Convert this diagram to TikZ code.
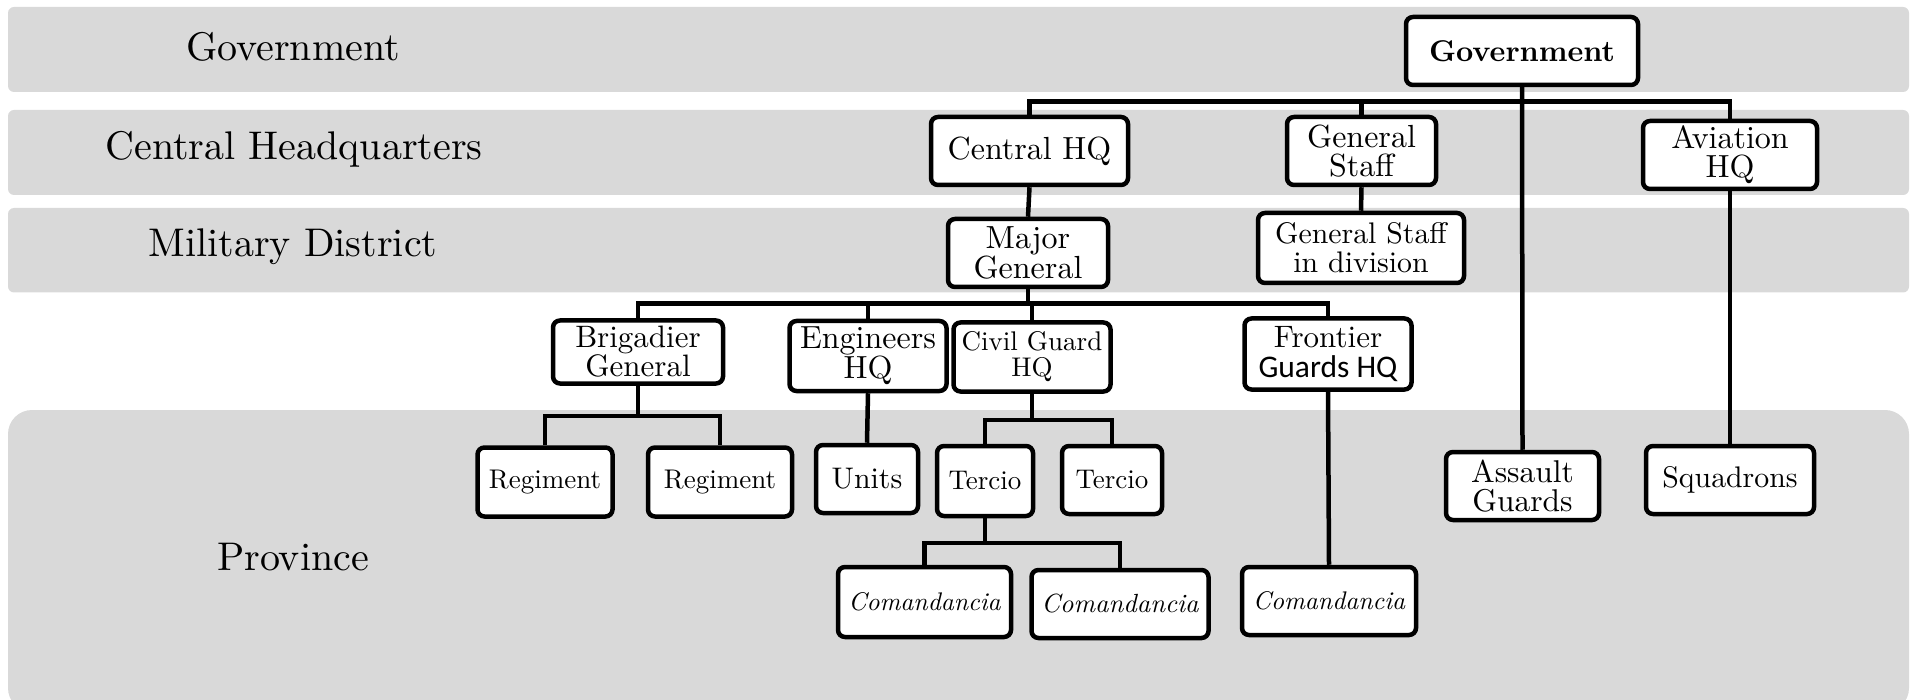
\documentclass[tikz,border=0pt]{standalone}
\usepackage{fontspec}
\setmainfont{lmroman10-regular.otf}[BoldFont=lmroman10-bold.otf, ItalicFont=lmroman10-italic.otf, BoldItalicFont=lmroman10-bolditalic.otf]
\newfontfamily\calib{Carlito}
\definecolor{band}{RGB}{217,217,217}
\tikzset{
  bandbox/.style={fill=band, draw=none, rounded corners=6pt},
  lbl/.style={font=\fontsize{40}{42}\selectfont},
  box/.style={draw, line width=4.5pt, rounded corners=7pt, fill=white, inner sep=0pt, align=center, font=\fontsize{32}{29}\selectfont},
  sm/.style={font=\fontsize{27}{26}\selectfont},
  md/.style={font=\fontsize{29.8}{29}\selectfont},
  com/.style={font=\fontsize{25.5}{26}\selectfont\itshape},
  link/.style={line width=4.5pt}
}
\begin{document}
\begin{tikzpicture}[x=1pt,y=-1pt]
\useasboundingbox (0,0) rectangle (1919,700);
\begin{scope}
\clip (0,0) rectangle (1919,700);
% bands
\fill[bandbox] (8,7) rectangle (1909,92);
\fill[bandbox] (8,110) rectangle (1909,195);
\fill[bandbox] (8,208) rectangle (1909,292.5);
\fill[bandbox, rounded corners=24pt] (8,410) rectangle (1909,712);
\end{scope}
% band labels
\node[lbl] (Lgov) at (293,47) {Government};
\node[lbl] (Lchq) at (294,149) {Central Headquarters};
\node[lbl] (Lmd) at (293,247) {Military District};
\node[lbl] (Lprov) at (293,557) {Province};
% boxes
\node[box, minimum width=232pt, minimum height=68pt, font=\fontsize{30}{29}\selectfont\bfseries] (gov) at (1522,51) {Government};
\node[box, minimum width=197pt, minimum height=68pt] (chq) at (1029.5,151) {Central HQ};
\node[box, minimum width=149pt, minimum height=68pt] (gs) at (1361.5,151) {General\\Staff};
\node[box, minimum width=174pt, minimum height=68pt] (avi) at (1730,155) {Aviation\\HQ};
\node[box, minimum width=160pt, minimum height=68pt] (mg) at (1028,253) {Major\\General};
\node[box, minimum width=206pt, minimum height=70pt, md] (gsd) at (1361,248) {General Staff\\in division};
\node[box, minimum width=170pt, minimum height=63pt, font=\fontsize{31}{29}\selectfont] (brig) at (638,352) {Brigadier\\General};
\node[box, minimum width=157pt, minimum height=70pt] (eng) at (868,356) {Engineers\\HQ};
\node[box, minimum width=157pt, minimum height=69pt, sm] (cg) at (1032,357) {Civil Guard\\HQ};
\node[box, minimum width=167pt, minimum height=71pt, font=\fontsize{31}{30}\selectfont] (fr) at (1328,354) {Frontier\\{\calib\fontsize{31.5}{30}\selectfont Guards HQ}};
\node[box, minimum width=135pt, minimum height=69pt, sm] (reg1) at (545,482) {Regiment};
\node[box, minimum width=144pt, minimum height=69pt, sm] (reg2) at (720,482) {Regiment};
\node[box, minimum width=102pt, minimum height=68pt, md] (units) at (867,479) {Units};
\node[box, minimum width=96pt, minimum height=70pt, sm] (ter1) at (985,481) {Tercio};
\node[box, minimum width=100pt, minimum height=68pt, sm] (ter2) at (1112,480) {Tercio};
\node[box, minimum width=153pt, minimum height=68pt, font=\fontsize{31.5}{29}\selectfont] (ag) at (1522.5,486) {Assault\\Guards};
\node[box, minimum width=168pt, minimum height=68pt, md] (sq) at (1730,480) {Squadrons};
\node[box, minimum width=173pt, minimum height=70pt, com] (com1) at (924.5,602) {Comandancia};
\node[box, minimum width=177pt, minimum height=68pt, com, font=\fontsize{26.3}{26}\selectfont\itshape] (com2) at (1120,604) {Comandancia};
\node[box, minimum width=174pt, minimum height=68pt, com] (com3) at (1329,601) {Comandancia};
% bus coordinates
\coordinate (b1) at (0,101.6);
\coordinate (b2) at (0,303.5);
\coordinate (b3) at (0,416);
\coordinate (b4) at (0,420);
\coordinate (b5) at (0,543);
% connectors
\draw[link] (chq.north) |- (b1 -| avi.north) -- (avi.north);
\draw[link] (gs.north) -- (gs.north |- b1);
\draw[link] (gov.south) -- (ag.north);
\draw[link] (gs.south) -- (gsd.north);
\draw[link] (chq.south) -- (mg.north);
\draw[link] (avi.south) -- (sq.north);
\draw[link] (mg.south) -- (mg.south |- b2);
\draw[link] (brig.north) |- (b2 -| fr.north) -- (fr.north);
\draw[link] (eng.north) -- (eng.north |- b2);
\draw[link] (cg.north) -- (cg.north |- b2);
\draw[link] (brig.south) -- (brig.south |- b3);
\draw[link] (reg1.north) |- (b3 -| reg2.north) -- (reg2.north);
\draw[link] (eng.south) -- (units.north);
\draw[link] (cg.south) -- (cg.south |- b4);
\draw[link] (ter1.north) |- (b4 -| ter2.north) -- (ter2.north);
\draw[link] (ter1.south) -- (ter1.south |- b5);
\draw[link] (com1.north) |- (b5 -| com2.north) -- (com2.north);
\draw[link] (fr.south) -- (com3.north);
\end{tikzpicture}
\end{document}
